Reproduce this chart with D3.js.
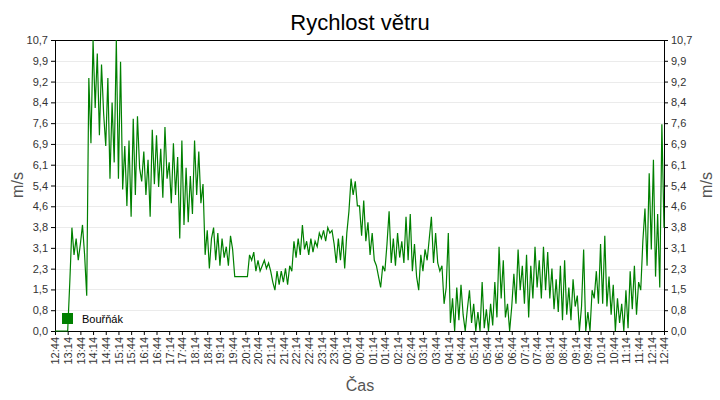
<!DOCTYPE html>
<html><head><meta charset="utf-8">
<script src="https://cdn.jsdelivr.net/npm/d3@7"></script>
<style>body{margin:0;background:#fff}svg{font-family:"Liberation Sans",Arial,sans-serif}</style>
</head><body><svg width="720" height="400"></svg>
<script>
// wind speed, one reading every 5 minutes from 12:44 to 12:44 next day
var speeds = [
0,0,0,0,0,0, 0.0,1.8,3.8,2.8,3.4,2.6, 3.2,3.9,2.8,1.3,9.3,6.9,
10.7,8.2,10.2,7.2,9.8,8.0, 6.8,9.3,5.6,8.4,6.2,10.7, 5.6,9.9,5.2,6.8,4.6,7.0,
4.2,7.8,5.0,7.9,6.0,5.5, 6.6,5.0,6.3,4.2,7.4,5.4, 7.2,5.3,6.7,4.9,7.5,5.6,
6.2,4.7,6.9,5.0,6.4,3.4, 7.0,3.9,6.0,4.0,5.7,4.3, 7.0,5.0,6.6,4.7,5.4,2.8,
3.7,2.3,3.4,3.8,2.6,3.6, 2.4,3.4,2.7,3.1,2.4,3.5, 3.0,2.0,2.0,2.0,2.0,2.0,
2.0,2.0,2.8,2.6,2.9,2.2, 2.6,2.2,2.4,2.6,2.3,2.5, 2.2,1.8,1.5,2.2,1.7,2.2,
1.8,2.3,1.7,2.4,2.2,3.3, 2.7,3.4,2.8,3.9,3.0,3.3, 2.8,3.4,2.9,3.3,3.1,3.6,
3.4,3.7,3.3,3.8,3.6,3.7, 3.2,2.5,3.4,2.6,3.5,2.3, 3.6,4.4,5.6,5.0,5.5,4.6,
4.6,3.5,4.8,3.3,4.0,2.8, 3.6,2.6,2.4,2.0,1.6,2.4, 2.2,3.2,4.4,2.5,3.4,2.4,
3.6,2.7,3.3,2.5,4.2,2.6, 4.3,2.2,3.2,2.0,1.5,2.8, 2.2,3.0,2.6,3.4,4.2,2.5,
3.6,2.5,2.2,2.4,1.0,1.6, 3.6,0.3,1.2,0.0,1.6,0.4, 1.7,0.6,0.0,0.8,1.5,0.3,
1.0,0.0,0.7,0.0,1.8,0.1, 0.8,0.0,1.0,0.2,1.8,0.5, 3.1,1.2,2.6,0.5,1.0,0.0,
0.9,2.1,1.0,3.0,1.5,2.4, 1.0,2.8,0.5,2.4,1.2,3.1, 1.6,2.6,1.2,3.1,1.5,2.9,
1.2,2.3,0.8,1.9,0.7,2.4, 0.4,2.6,0.6,1.6,0.4,1.9, 0.9,1.3,0.0,0.9,3.0,0.0,
0.7,0.0,1.5,1.2,2.2,1.0, 3.2,1.0,3.5,0.9,2.0,0.6, 1.7,0.0,1.2,0.3,1.0,0.0,
1.5,0.1,2.2,0.8,2.4,0.6, 1.8,1.5,3.3,4.5,2.4,5.8, 3.0,6.3,2.0,4.3,1.6,7.6,
3.8
];
var yTicks = ["0,0","0,8","1,5","2,3","3,1","3,8","4,6","5,4","6,1","6,9","7,6","8,4","9,2","9,9","10,7"];
var timeLabels = ["12:44","13:14","13:44","14:14","14:44","15:14","15:44","16:14","16:44","17:14","17:44","18:14","18:44","19:14","19:44","20:14","20:44","21:14","21:44","22:14","22:44","23:14","23:44","00:14","00:44","01:14","01:44","02:14","02:44","03:14","03:44","04:14","04:44","05:14","05:44","06:14","06:44","07:14","07:44","08:14","08:44","09:14","09:44","10:14","10:44","11:14","11:44","12:14","12:44"];
var seriesName = "Bouřňák";

var svg = d3.select("svg");
var L = 55, R = 664, T = 40, B = 331;
var yMax = 10.7;

var x = d3.scaleLinear().domain([0, speeds.length - 1]).range([L, R]);
var xl = d3.scaleLinear().domain([0, timeLabels.length - 1]).range([L, R]);
var y = d3.scaleLinear().domain([0, yMax]).range([B, T]);
var tickVals = yTicks.map(function(d, i){ return yMax * i / (yTicks.length - 1); });

// grid
svg.append("g").selectAll("line").data(tickVals.slice(1, -1)).enter().append("line")
  .attr("x1", L).attr("x2", R)
  .attr("y1", function(d){ return Math.round(y(d)) + 0.5; }).attr("y2", function(d){ return Math.round(y(d)) + 0.5; })
  .attr("stroke", "#ebebeb");

var fmt = function(d, i){ return yTicks[i]; };
var yl = svg.append("g").attr("transform", "translate(" + L + ",0)")
  .call(d3.axisLeft(y).tickValues(tickVals).tickFormat(fmt).tickSize(4).tickPadding(3));
var yr = svg.append("g").attr("transform", "translate(" + R + ",0)")
  .call(d3.axisRight(y).tickValues(tickVals).tickFormat(fmt).tickSize(4).tickPadding(3));
var xa = svg.append("g").attr("transform", "translate(0," + B + ")")
  .call(d3.axisBottom(xl).tickValues(d3.range(timeLabels.length))
    .tickFormat(function(d){ return timeLabels[d]; }).tickSize(4).tickPadding(2));
xa.selectAll("text").attr("transform", "rotate(-90)").attr("text-anchor", "end")
  .attr("x", -6).attr("y", 0).attr("dy", "0.35em");
[yl, yr, xa].forEach(function(g){
  g.selectAll("text").attr("font-size", 11).attr("fill", "#333").attr("font-family", "Liberation Sans, Arial");
  g.selectAll("path,line").attr("stroke", "#000");
});
svg.append("line").attr("x1", L).attr("x2", R).attr("y1", T + 0.5).attr("y2", T + 0.5).attr("stroke", "#000");

// series
var line = d3.line().x(function(d, i){ return x(i); }).y(function(d){ return y(d); });
svg.append("path").datum(speeds).attr("d", line)
  .attr("fill", "none").attr("stroke", "#008000").attr("stroke-width", 1.2);

// titles
svg.append("text").attr("x", 360).attr("y", 30).attr("text-anchor", "middle")
  .attr("font-size", 22).attr("fill", "#000").text("Rychlost větru");
svg.append("text").attr("x", 360).attr("y", 391).attr("text-anchor", "middle")
  .attr("font-size", 16).attr("fill", "#555").text("Čas");
svg.append("text").attr("transform", "translate(23,185) rotate(-90)").attr("text-anchor", "middle")
  .attr("font-size", 16).attr("fill", "#555").text("m/s");
svg.append("text").attr("transform", "translate(712,185) rotate(-90)").attr("text-anchor", "middle")
  .attr("font-size", 16).attr("fill", "#555").text("m/s");

// legend
svg.append("rect").attr("x", 62).attr("y", 313).attr("width", 11).attr("height", 11).attr("fill", "#008000");
svg.append("text").attr("x", 82).attr("y", 323).attr("font-size", 11).attr("fill", "#000").text(seriesName);
</script></body></html>
